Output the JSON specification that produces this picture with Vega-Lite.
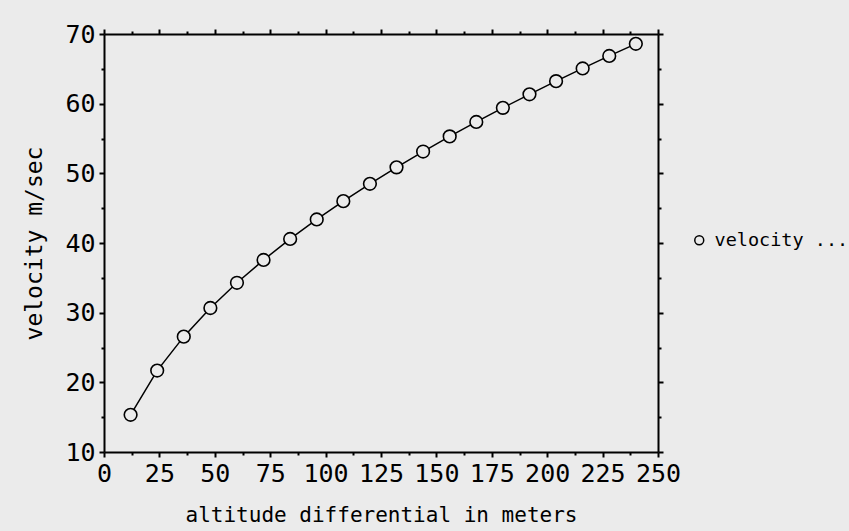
{
  "$schema": "https://vega.github.io/schema/vega-lite/v6.json",
  "autosize": "none",
  "width": 554,
  "height": 418,
  "padding": {"left": 104, "top": 34, "right": 191, "bottom": 79},
  "background": "#ebebeb",
  "config": {"view": {"stroke": null}, "font": "DejaVu Sans Mono"},
  "data": {"values": [
    {"altitude": 12, "velocity": 15.34, "series": "velocity ..."},
    {"altitude": 24, "velocity": 21.69, "series": "velocity ..."},
    {"altitude": 36, "velocity": 26.56, "series": "velocity ..."},
    {"altitude": 48, "velocity": 30.67, "series": "velocity ..."},
    {"altitude": 60, "velocity": 34.29, "series": "velocity ..."},
    {"altitude": 72, "velocity": 37.57, "series": "velocity ..."},
    {"altitude": 84, "velocity": 40.58, "series": "velocity ..."},
    {"altitude": 96, "velocity": 43.38, "series": "velocity ..."},
    {"altitude": 108, "velocity": 46.01, "series": "velocity ..."},
    {"altitude": 120, "velocity": 48.50, "series": "velocity ..."},
    {"altitude": 132, "velocity": 50.86, "series": "velocity ..."},
    {"altitude": 144, "velocity": 53.13, "series": "velocity ..."},
    {"altitude": 156, "velocity": 55.30, "series": "velocity ..."},
    {"altitude": 168, "velocity": 57.38, "series": "velocity ..."},
    {"altitude": 180, "velocity": 59.40, "series": "velocity ..."},
    {"altitude": 192, "velocity": 61.34, "series": "velocity ..."},
    {"altitude": 204, "velocity": 63.23, "series": "velocity ..."},
    {"altitude": 216, "velocity": 65.06, "series": "velocity ..."},
    {"altitude": 228, "velocity": 66.85, "series": "velocity ..."},
    {"altitude": 240, "velocity": 68.59, "series": "velocity ..."}
  ]},
  "layer": [
    {
      "mark": {"type": "line", "color": "black", "strokeWidth": 1.5},
      "encoding": {
        "x": {
          "field": "altitude", "type": "quantitative",
          "scale": {"domain": [0, 250], "nice": false, "zero": false},
          "axis": {
            "orient": "bottom",
            "values": [0, 12.5, 25, 37.5, 50, 62.5, 75, 87.5, 100, 112.5, 125, 137.5, 150, 162.5, 175, 187.5, 200, 212.5, 225, 237.5, 250],
            "labelExpr": "datum.value % 25 == 0 ? datum.label : ''",
            "tickSize": {"condition": {"test": "datum.value % 25 == 0", "value": 5}, "value": 3},
            "tickWidth": 2, "tickColor": "black",
            "domainColor": "black", "domainWidth": 2,
            "labelFontSize": 25, "labelColor": "black", "labelPadding": 4,
            "labelFont": "DejaVu Sans Mono", "labelOverlap": false, "labelBound": false, "labelFlush": false,
            "grid": false,
            "title": "altitude differential in meters",
            "titleFont": "DejaVu Sans Mono", "titleFontSize": 21, "titleFontWeight": "normal",
            "titleColor": "black", "titlePadding": 18
          }
        },
        "y": {
          "field": "velocity", "type": "quantitative",
          "scale": {"domain": [10, 70], "nice": false, "zero": false},
          "axis": {
            "orient": "left",
            "values": [10, 15, 20, 25, 30, 35, 40, 45, 50, 55, 60, 65, 70],
            "labelExpr": "datum.value % 10 == 0 ? datum.label : ''",
            "tickSize": {"condition": {"test": "datum.value % 10 == 0", "value": 5}, "value": 3},
            "tickWidth": 2, "tickColor": "black",
            "domainColor": "black", "domainWidth": 2,
            "labelFontSize": 25, "labelColor": "black", "labelPadding": 4,
            "labelFont": "DejaVu Sans Mono", "labelOverlap": false, "labelBound": false, "labelFlush": false,
            "grid": false,
            "title": "velocity m/sec",
            "titleFont": "DejaVu Sans Mono", "titleFontSize": 23, "titleFontWeight": "normal",
            "titleColor": "black", "titlePadding": 18
          }
        }
      }
    },
    {
      "mark": {"type": "point", "filled": true, "fill": "#ebebeb", "stroke": "black", "strokeWidth": 1.6, "size": 160, "opacity": 1, "fillOpacity": 1},
      "encoding": {
        "x": {
          "field": "altitude", "type": "quantitative",
          "axis": {
            "orient": "top",
            "values": [0, 12.5, 25, 37.5, 50, 62.5, 75, 87.5, 100, 112.5, 125, 137.5, 150, 162.5, 175, 187.5, 200, 212.5, 225, 237.5, 250],
            "labels": false,
            "tickSize": {"condition": {"test": "datum.value % 25 == 0", "value": 5}, "value": 3},
            "tickWidth": 2, "tickColor": "black",
            "domainColor": "black", "domainWidth": 2,
            "grid": false, "title": null
          }
        },
        "y": {
          "field": "velocity", "type": "quantitative",
          "axis": {
            "orient": "right",
            "values": [10, 15, 20, 25, 30, 35, 40, 45, 50, 55, 60, 65, 70],
            "labels": false,
            "tickSize": {"condition": {"test": "datum.value % 10 == 0", "value": 5}, "value": 3},
            "tickWidth": 2, "tickColor": "black",
            "domainColor": "black", "domainWidth": 2,
            "grid": false, "title": null
          }
        },
        "shape": {
          "field": "series", "type": "nominal",
          "scale": {"range": ["circle"]},
          "legend": {
            "title": null,
            "orient": "none",
            "legendX": 586,
            "legendY": 197,
            "padding": 0,
            "symbolSize": 80,
            "symbolType": "circle",
            "labelFont": "DejaVu Sans Mono",
            "labelFontSize": 18.5,
            "labelColor": "black",
            "labelOffset": 6,
            "labelLimit": 300,
            "encode": {
              "symbols": {
                "update": {
                  "fill": {"value": "#ebebeb"},
                  "stroke": {"value": "black"},
                  "strokeWidth": {"value": 1.5},
                  "opacity": {"value": 1},
                  "fillOpacity": {"value": 1},
                  "strokeOpacity": {"value": 1}
                }
              }
            }
          }
        }
      }
    }
  ],
  "resolve": {"axis": {"x": "independent", "y": "independent"}}
}
